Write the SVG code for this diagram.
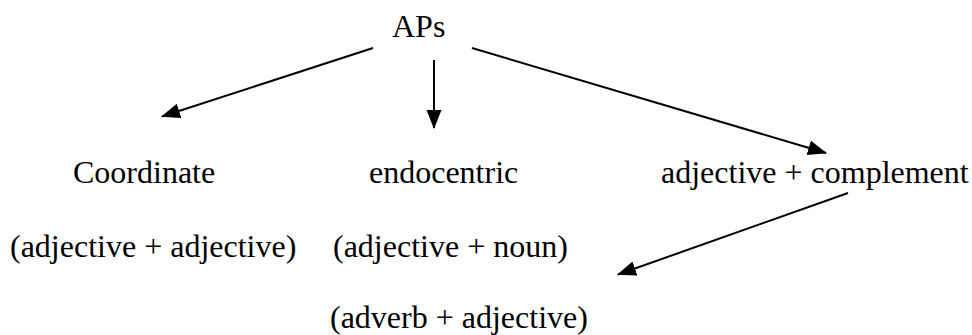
<svg xmlns="http://www.w3.org/2000/svg" width="972" height="335" viewBox="0 0 972 335">
  <style>
    text { font-family: "Liberation Serif", "Tinos", "DejaVu Serif", serif; font-size: 32px; fill: #000; }
    .edge { stroke: #000; stroke-width: 2; fill: none; marker-end: url(#arrow); }
  </style>
  <defs>
    <marker id="arrow" markerUnits="userSpaceOnUse" markerWidth="20" markerHeight="16" refX="18" refY="7.5" orient="auto">
      <path d="M0,0 L19,7.5 L0,15 z" fill="#000"/>
    </marker>
  </defs>
  <rect width="972" height="335" fill="#fff"/>
  <g id="connectors">
    <line class="edge" x1="373" y1="48" x2="162" y2="116.5"/>
    <line class="edge" x1="434" y1="60" x2="434" y2="128"/>
    <line class="edge" x1="472" y1="48" x2="826" y2="153"/>
    <line class="edge" x1="848" y1="193" x2="618" y2="274.5"/>
  </g>
  <g id="aps"><text x="392" y="37" font-family="Liberation Serif, serif">APs</text></g>
  <g id="coordinate">
    <text x="73" y="183">Coordinate</text>
    <text x="10" y="257">(adjective + adjective)</text>
  </g>
  <g id="endocentric">
    <text x="369" y="183">endocentric</text>
    <text x="333" y="257">(adjective + noun)</text>
  </g>
  <g id="adj-complement"><text x="661" y="183">adjective + complement</text></g>
  <g id="adverb-adjective"><text x="330" y="328">(adverb + adjective)</text></g>
</svg>
